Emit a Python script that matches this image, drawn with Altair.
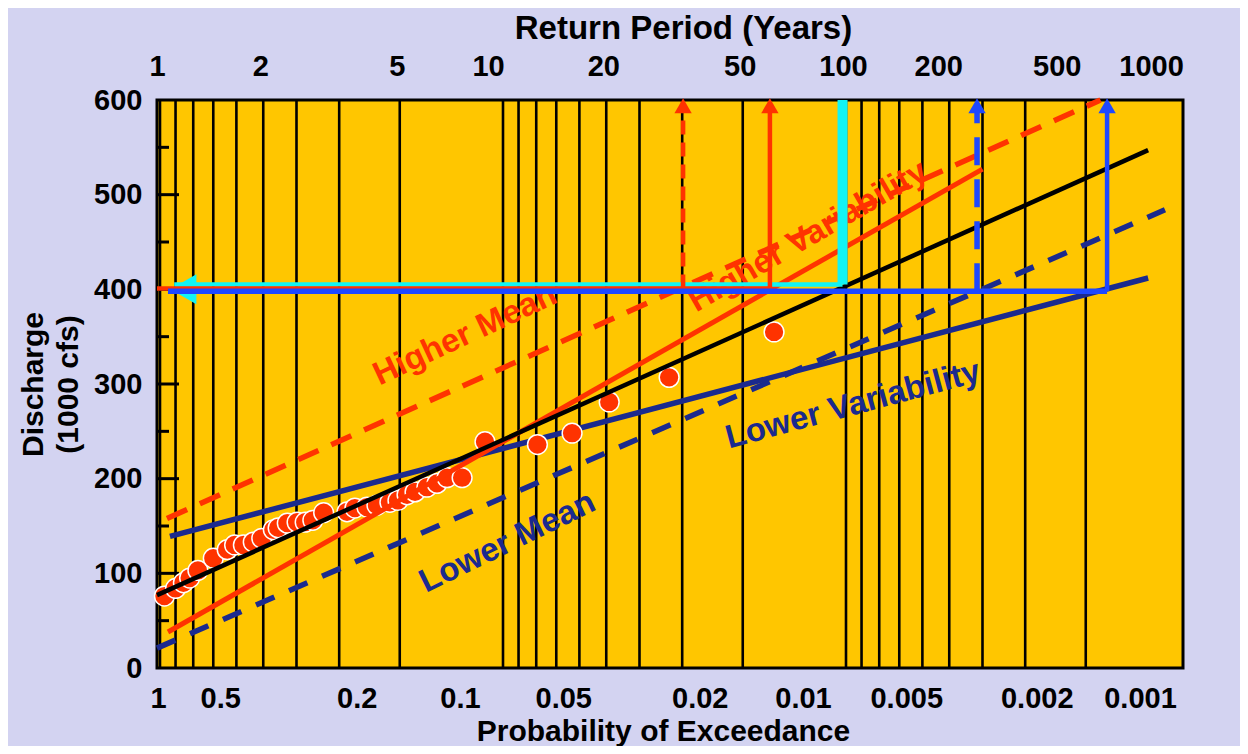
import altair as alt
import pandas as pd

FONT = "Liberation Sans"
RED = "#ff3300"
NAVY = "#1b2a8e"
BLUE = "#1e48ff"
CYAN = "#12f4f4"
GOLD = "#ffc600"
LAVENDER = "#d3d3f1"

# ---- axis / tick data ----
return_periods = [1, 2, 5, 10, 20, 50, 100, 200, 500, 1000]
exceedance_labels = ["1", "0.5", "0.2", "0.1", "0.05", "0.02", "0.01", "0.005", "0.002", "0.001"]
grid_periods = [1, 1.11, 1.25, 1.43, 1.67, 2, 2.5, 3.33, 5,
                10, 11.1, 12.5, 14.3, 16.7, 20, 25, 33.3, 50,
                100, 111, 125, 143, 167, 200, 250, 333, 500]
y_tick_labels = [0, 100, 200, 300, 400, 500, 600]
y_major_ticks = [100, 200, 300, 400, 500]
y_minor_ticks = [50, 150, 250, 350, 450, 550]

# ---- observed annual peaks (return period, discharge) ----
obs_T = [1.03, 1.11, 1.17, 1.22, 1.29, 1.43, 1.57, 1.65, 1.75, 1.87,
         1.98, 2.14, 2.21, 2.35, 2.51, 2.65, 2.79, 3.0, 3.51, 3.70,
         4.01, 4.29, 4.68, 4.94, 5.25, 5.54, 6.00, 6.42, 6.87, 7.60,
         8.86, 12.6, 15.9, 20.4, 30.5, 61.7]
obs_Q = [76, 84, 90, 95, 103, 116, 125, 130, 130, 133,
         137, 146, 148, 153, 154, 154, 156, 164, 165, 169,
         170, 172, 175, 177, 183, 186, 191, 195, 201, 201,
         239, 236, 248, 281, 307, 355]

# ---- fitted frequency curves ----
fit_T, fit_Q = [0.98, 760], [77, 547]
hivar_T, hivar_Q = [1.055, 250], [38, 527]
himean_T, himean_Q = [1.048, 552], [158, 600]
lovar_T, lovar_Q = [1.069, 760], [139, 412]
lomean_T, lomean_Q = [0.98, 851], [21, 484]

# ---- design discharge read-offs ----
red_h_T, red_h_Q = [0.98, 60], [401, 401]
cyan_h_T, cyan_h_Q = [1.1, 97.7], [405, 405]
blue_h_T, blue_h_Q = [1.055, 577], [398, 398]
himean_v_T, himean_v_Q = [33.5, 33.5], [401, 596]
hivar_v_T, hivar_v_Q = [60, 60], [401, 596]
fit_v_T, fit_v_Q = [97.7, 97.7], [405, 600]
lomean_v_T, lomean_v_Q = [241, 241], [398, 596]
lovar_v_T, lovar_v_Q = [577, 577], [398, 596]
red_head_T, red_head_Q = [33.5, 60], [594, 594]
blue_head_T, blue_head_Q = [241, 577], [594, 594]
cyan_head_T, cyan_head_Q = [1.17], [400]

# ---- curve labels ----
lab_text = ["Higher Mean", "Higher Variability", "Lower Variability", "Lower Mean"]
lab_T = [7.75, 77.5, 104.8, 10.3]
lab_Q = [352, 456, 278, 133]

XS = alt.Scale(type="log", domain=[1, 1000], range=[3, 1032], nice=False)
YS = alt.Scale(domain=[0, 600], nice=False, zero=False)

left_axis = alt.Axis(
    orient="left", values=y_tick_labels, ticks=False, domain=False, grid=False,
    labelFont=FONT, labelFontSize=29, labelFontWeight="bold", labelColor="black",
    labelPadding=15, labelBaseline="middle", labelFlush=False,
    title=["Discharge", "(1000 cfs)"], titleFont=FONT, titleFontSize=30,
    titleFontWeight="bold", titleColor="black", titleLineHeight=35,
    titlePadding=10,
)


def df(t, q):
    return pd.DataFrame({"T": t, "Q": q})


def X(axis=None):
    return alt.X("T:Q", scale=XS, axis=axis)


def Y():
    return alt.Y("Q:Q", scale=YS, axis=left_axis)


def line(t, q, color, width, dash=None):
    kw = dict(color=color, strokeWidth=width)
    if dash:
        kw["strokeDash"] = dash
    return alt.Chart(df(t, q)).mark_line(**kw).encode(x=X(), y=Y(), order="T:Q")


bottom_expr = " : ".join(
    f"datum.value == {t} ? '{lab}'" for t, lab in zip(return_periods, exceedance_labels)
) + " : ''"

bottom_axis = alt.Axis(
    orient="bottom", values=return_periods, labelExpr=bottom_expr,
    ticks=False, tickSize=0, domain=False, grid=False,
    labelFont=FONT, labelFontSize=29, labelFontWeight="bold", labelColor="black",
    labelBaseline="alphabetic", labelPadding=39, labelFlush=False, labelOverlap=False,
    labelOffset={"condition": [{"test": "datum.value == 1", "value": -2},
                               {"test": "datum.value >= 500", "value": -49}],
                 "value": -43},
    title="Probability of Exceedance", titleFont=FONT, titleFontSize=30,
    titleFontWeight="bold", titleColor="black", titleBaseline="alphabetic",
    titleX=506, titleY=72, titleAlign="center",
)

top_axis = alt.Axis(
    orient="top", values=return_periods, format="d",
    ticks=False, tickSize=0, domain=False, grid=False,
    labelFont=FONT, labelFontSize=29, labelFontWeight="bold", labelColor="black",
    labelBaseline="alphabetic", labelPadding=25, labelFlush=False, labelOverlap=False,
    labelOffset={"condition": [{"test": "datum.value == 10", "value": -15},
                               {"test": "datum.value == 200", "value": -11},
                               {"test": "datum.value == 500", "value": -29},
                               {"test": "datum.value == 1000", "value": -38}],
                 "value": -3},
    title="Return Period (Years)", titleFont=FONT, titleFontSize=33,
    titleFontWeight="bold", titleColor="black", titleBaseline="alphabetic",
    titleX=526, titleY=-62, titleAlign="center",
)

grid = alt.Chart(pd.DataFrame({"T": grid_periods})).mark_rule(
    color="black", strokeWidth=2.6).encode(x=X(bottom_axis))

top = alt.Chart(pd.DataFrame({"T": return_periods})).mark_point(opacity=0).encode(
    x=X(top_axis), y=alt.value(0))

major = alt.Chart(pd.DataFrame({"Q": y_major_ticks})).mark_rule(
    color="black", strokeWidth=3).encode(y=Y(), x=alt.value(0), x2=alt.value(22))
minor = alt.Chart(pd.DataFrame({"Q": y_minor_ticks})).mark_rule(
    color="black", strokeWidth=3).encode(y=Y(), x=alt.value(0), x2=alt.value(12))

points = alt.Chart(df(obs_T, obs_Q)).mark_point(
    shape="circle", filled=True, fill=RED, stroke="white", strokeWidth=1.5,
    size=390, opacity=1).encode(x=X(), y=Y())

texts = []
lab_styles = [(RED, 335), (RED, 330), (NAVY, 345), (NAVY, 334)]
for txt, t, q, (col, ang) in zip(lab_text, lab_T, lab_Q, lab_styles):
    texts.append(
        alt.Chart(pd.DataFrame({"T": [t], "Q": [q], "label": [txt]})).mark_text(
            font=FONT, fontSize=33, fontWeight="bold", color=col, angle=ang,
            align="center", baseline="middle").encode(x=X(), y=Y(), text="label:N")
    )

cyan_head = alt.Chart(df(cyan_head_T, cyan_head_Q)).mark_point(
    shape="triangle-left", filled=True, color=CYAN, size=900, opacity=1).encode(x=X(), y=Y())
red_heads = alt.Chart(df(red_head_T, red_head_Q)).mark_point(
    shape="triangle-up", filled=True, color=RED, size=300, opacity=1).encode(x=X(), y=Y())
blue_heads = alt.Chart(df(blue_head_T, blue_head_Q)).mark_point(
    shape="triangle-up", filled=True, color=BLUE, size=300, opacity=1).encode(x=X(), y=Y())

chart = alt.layer(
    grid, top, major, minor,
    line(lomean_T, lomean_Q, NAVY, 5.5, [20, 16]),
    line(lovar_T, lovar_Q, NAVY, 5.5),
    points,
    line(himean_T, himean_Q, RED, 5.5, [22, 14]),
    line(hivar_T, hivar_Q, RED, 5),
    line(fit_T, fit_Q, "black", 4.5),
    *texts,
    cyan_head,
    line(cyan_h_T, cyan_h_Q, CYAN, 4.5),
    line(fit_v_T, fit_v_Q, CYAN, 10),
    line(red_h_T, red_h_Q, RED, 4.5),
    line(himean_v_T, himean_v_Q, RED, 4.5, [14, 8]),
    line(hivar_v_T, hivar_v_Q, RED, 4.5),
    line(blue_h_T, blue_h_Q, BLUE, 5.5),
    line(lomean_v_T, lomean_v_Q, BLUE, 5.5, [28, 14]),
    line(lovar_v_T, lovar_v_Q, BLUE, 4.5),
    red_heads, blue_heads,
).resolve_axis(x="independent").properties(
    width=1026, height=568,
    autosize=alt.AutoSizeParams(type="none"),
    padding={"left": 149, "top": 92, "right": 57, "bottom": 78},
    background=LAVENDER,
).configure_view(fill=GOLD, stroke="black", strokeWidth=3)

chart.save("out.html", embed_options={"renderer": "svg", "actions": False})
